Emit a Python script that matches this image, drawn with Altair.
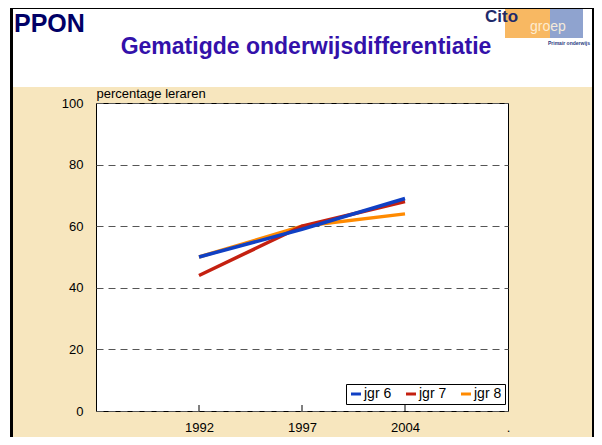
import altair as alt
import pandas as pd

# ---- data ----
years = ["1992", "1997", "2004"]
axis_domain = ["", "1992", "1997", "2004", "."]
series_names = ["jgr 6", "jgr 7", "jgr 8"]
jgr6 = [50, 59, 69]
jgr7 = [44, 60, 68]
jgr8 = [50, 60, 64]
colors = ["#1040C4", "#C42010", "#FF8A00"]
y_ticks = [0, 20, 40, 60, 80, 100]

slide_title = "PPON"
chart_title = "Gematigde onderwijsdifferentiatie"
y_title = "percentage leraren"

FONT = "Liberation Sans"
W, H = 412, 308

rows = []
for name, vals in zip(series_names, [jgr6, jgr7, jgr8]):
    for yr, v in zip(years, vals):
        rows.append({"jaar": yr, "reeks": name, "waarde": v})
df = pd.DataFrame(rows)

x_enc = alt.X(
    "jaar:N",
    scale=alt.Scale(type="point", domain=axis_domain, padding=0),
    axis=alt.Axis(title=None, ticks=False, tickSize=0, domain=False, grid=False,
                  labelPadding=10, labelFontSize=13, labelAngle=0, labelColor="black",
                  labelFont=FONT),
)
y_enc = alt.Y(
    "waarde:Q",
    scale=alt.Scale(domain=[0, 100]),
    axis=alt.Axis(values=y_ticks, title=y_title, titleAngle=0, titleAlign="left",
                  titleBaseline="alphabetic", titleX=0, titleY=-6, titleFontSize=13,
                  titleFontWeight="normal", titleColor="black", titleFont=FONT,
                  grid=True, gridDash=[7, 5], gridColor="#555555", gridWidth=1,
                  domain=False, ticks=False, tickSize=0, labelPadding=13,
                  labelFontSize=13, labelColor="black", labelFont=FONT),
)
color_enc = alt.Color(
    "reeks:N",
    scale=alt.Scale(domain=series_names, range=colors),
    legend=alt.Legend(orient="none", legendX=250, legendY=281, direction="horizontal",
                      title=None, fillColor="white", strokeColor="black", padding=3,
                      symbolType="stroke", symbolSize=100, symbolStrokeWidth=3,
                      labelFontSize=14, labelFont=FONT, labelColor="black",
                      labelOffset=1, columnPadding=8),
)

one = pd.DataFrame({"a": [0]})


def box(x, x2, y, y2, color):
    return alt.Chart(one).mark_rect(color=color).encode(
        x=alt.value(x), x2=alt.value(x2), y=alt.value(y), y2=alt.value(y2))


def label(text, x, y, size, color, weight="normal", align="left", opacity=1.0):
    return alt.Chart(pd.DataFrame({"t": [text]})).mark_text(
        font=FONT, fontSize=size, fontWeight=weight, color=color, align=align,
        baseline="alphabetic", opacity=opacity).encode(
        text="t:N", x=alt.value(x), y=alt.value(y))


decor = [
    box(-88, -86, -95, 334, "white"),          # outside slide
    box(-86, -83, -95, 334, "black"),          # left border
    box(-86, 498, -95, -94, "black"),          # top border
    box(-83, 496, -94, -16, "white"),          # white header band
    box(496, 498, -95, 334, "black"),          # right border
    box(409, 454, -94, -65, "#F8B862"),        # logo orange
    box(454, 487, -94, -65, "#8FA3CF"),        # logo blue
    label("Cito", 389, -81, 17, "#1F2A6B", weight="bold"),
    label("groep", 434, -72, 14, "#FFF2DC", opacity=0.9),
    label("Primair onderwijs", 452, -58, 5, "#2B3A80", weight="bold"),
    label(slide_title, -82, -71, 25, "#000066", weight="bold"),
    label(chart_title, 210, -49, 23, "#3311AA", weight="bold", align="center"),
]

base = alt.Chart(df).encode(x=x_enc, y=y_enc, color=color_enc)
lines = [base.transform_filter(alt.datum.reeks == n).mark_line(strokeWidth=3.5, strokeCap="butt")
         for n in ["jgr 8", "jgr 7", "jgr 6"]]

ticks = alt.Chart(pd.DataFrame({"jaar": years})).mark_rule(color="black", strokeWidth=1).encode(
    x=x_enc, y=alt.value(H), y2=alt.value(H - 6))

chart = alt.layer(*decor, *lines, ticks).properties(
    width=W, height=H,
    autosize=alt.AutoSizeParams(type="none"),
    padding={"left": 88, "top": 95, "right": 86, "bottom": 26},
    background="#F7E6BE",
).configure_view(fill="white", stroke="black", strokeWidth=1)

chart.save("out.html", embed_options={"renderer": "svg", "actions": False})
